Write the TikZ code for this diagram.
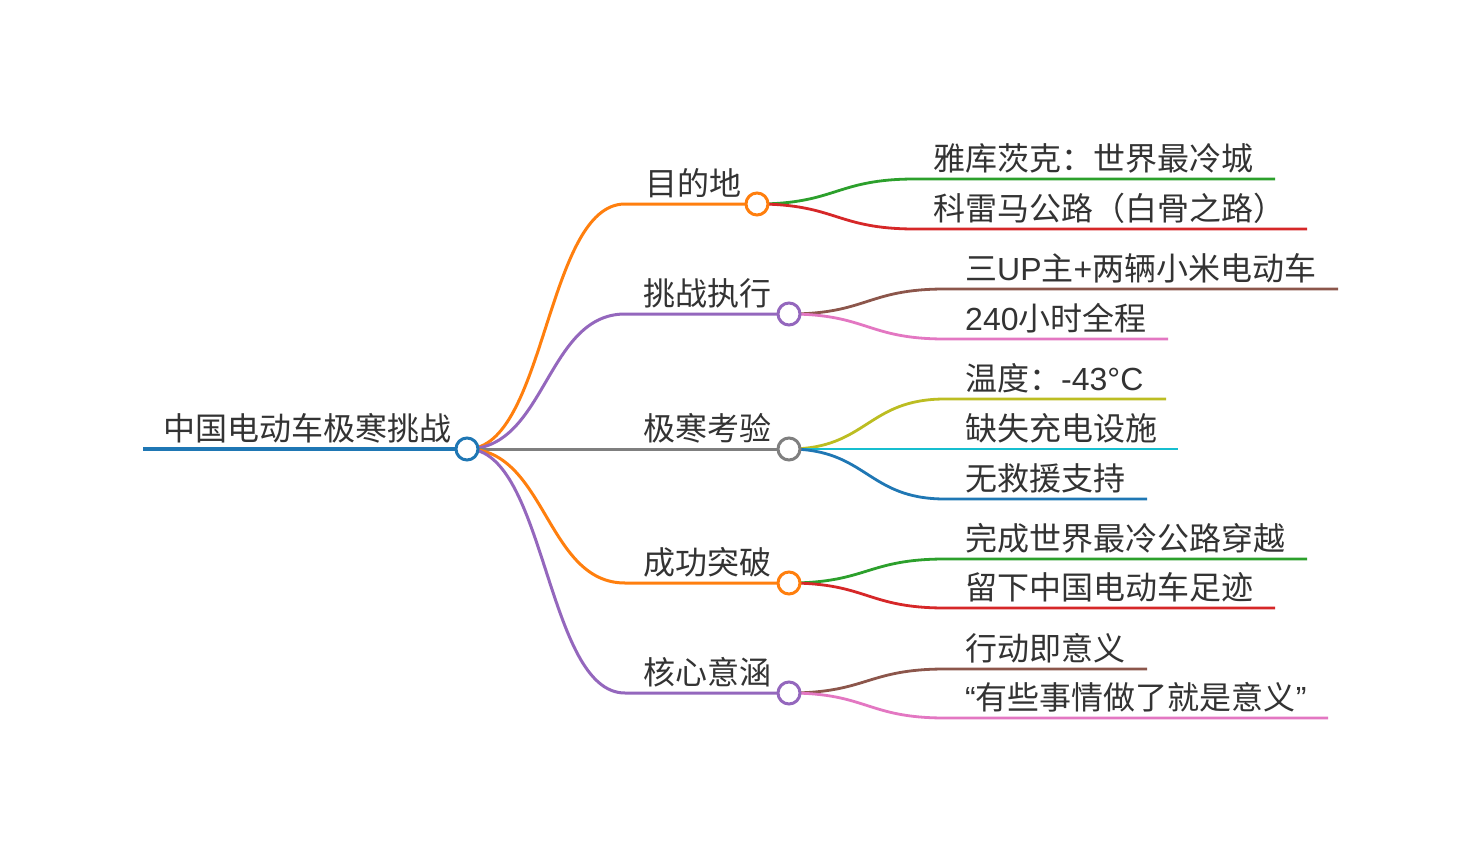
\documentclass[tikz,border=0pt]{standalone}
\usepackage{fontspec}
\setmainfont{Noto Sans CJK SC}
\newfontfamily\latfont{Liberation Sans}
\newcommand{\lat}[1]{{\latfont #1}}
\usetikzlibrary{backgrounds}
\definecolor{cblue}{HTML}{1F77B4}
\definecolor{corange}{HTML}{FF7F0E}
\definecolor{cgreen}{HTML}{2CA02C}
\definecolor{cred}{HTML}{D62728}
\definecolor{cpurple}{HTML}{9467BD}
\definecolor{cbrown}{HTML}{8C564B}
\definecolor{cpink}{HTML}{E377C2}
\definecolor{cgray}{HTML}{7F7F7F}
\definecolor{colive}{HTML}{BCBD22}
\definecolor{ccyan}{HTML}{17BECF}
\definecolor{txt}{HTML}{333333}
\begin{document}
\begin{tikzpicture}[x=1pt,y=-1pt,
  lbl/.style={anchor=base west, inner sep=0, text=txt, font=\fontsize{32}{36}\selectfont},
  knob/.style={circle, draw=#1, fill=white, line width=3pt, minimum size=22pt, inner sep=0},
  rootline/.style={draw=#1, line width=4pt},
  l1line/.style={draw=#1, line width=3pt},
  l2line/.style={draw=#1, line width=2.8pt}]
\useasboundingbox (0,0) rectangle (1482,864);

% ---------- root ----------
\coordinate (r-s) at (143,449);
\node[knob=cblue] (r-c) at (467,449) {};
\node[lbl] (r-t) at (163,440) {中国电动车极寒挑战};

% ---------- level 1 ----------
\coordinate (a-s) at (625,204);
\node[knob=corange] (a-c) at (757,204) {};
\node[lbl] (a-t) at (645,195) {目的地};

\coordinate (b-s) at (625,314);
\node[knob=cpurple] (b-c) at (789,314) {};
\node[lbl] (b-t) at (643,305) {挑战执行};

\coordinate (c-s) at (625,449);
\node[knob=cgray] (c-c) at (789,449) {};
\node[lbl] (c-t) at (643,440) {极寒考验};

\coordinate (d-s) at (625,583);
\node[knob=corange] (d-c) at (789,583) {};
\node[lbl] (d-t) at (643,574) {成功突破};

\coordinate (e-s) at (625,693);
\node[knob=cpurple] (e-c) at (789,693) {};
\node[lbl] (e-t) at (643,684) {核心意涵};

% ---------- level 2 ----------
\coordinate (a1-s) at (915,179); \coordinate (a1-e) at (1275,179);
\node[lbl] (a1-t) at (933,170) {雅库茨克：世界最冷城};
\coordinate (a2-s) at (915,229); \coordinate (a2-e) at (1307,229);
\node[lbl] (a2-t) at (933,220) {科雷马公路（白骨之路）};

\coordinate (b1-s) at (945,289); \coordinate (b1-e) at (1338,289);
\node[lbl] (b1-t) at (965,280) {三\lat{UP}主\lat{+}两辆小米电动车};
\coordinate (b2-s) at (945,339); \coordinate (b2-e) at (1168,339);
\node[lbl] (b2-t) at (965,330) {\lat{240}小时全程};

\coordinate (c1-s) at (945,399); \coordinate (c1-e) at (1166,399);
\node[lbl] (c1-t) at (965,390) {温度：\lat{-43°C}};
\coordinate (c2-s) at (945,449); \coordinate (c2-e) at (1178,449);
\node[lbl] (c2-t) at (965,440) {缺失充电设施};
\coordinate (c3-s) at (945,499); \coordinate (c3-e) at (1147,499);
\node[lbl] (c3-t) at (965,490) {无救援支持};

\coordinate (d1-s) at (945,559); \coordinate (d1-e) at (1307,559);
\node[lbl] (d1-t) at (965,550) {完成世界最冷公路穿越};
\coordinate (d2-s) at (945,608); \coordinate (d2-e) at (1275,608);
\node[lbl] (d2-t) at (965,599) {留下中国电动车足迹};

\coordinate (e1-s) at (945,669); \coordinate (e1-e) at (1147,669);
\node[lbl] (e1-t) at (965,660) {行动即意义};
\coordinate (e2-s) at (945,718); \coordinate (e2-e) at (1328,718);
\node[lbl] (e2-t) at (965,709) {\lat{“}有些事情做了就是意义\lat{”}};

% ---------- connectors (behind circles) ----------
\begin{pgfonlayer}{background}
\fill[white] (0,0) rectangle (1482,864);
\draw[rootline=cblue] (r-s) -- (r-c.center);
% root to level 1
\draw[l1line=corange] (r-c.center) .. controls (546,449) and (546,204) .. (a-s) -- (a-c.center);
\draw[l1line=cpurple] (r-c.center) .. controls (546,449) and (546,314) .. (b-s) -- (b-c.center);
\draw[l1line=cgray]   (r-c.center) .. controls (546,449) and (546,449) .. (c-s) -- (c-c.center);
\draw[l1line=corange] (r-c.center) .. controls (546,449) and (546,583) .. (d-s) -- (d-c.center);
\draw[l1line=cpurple] (r-c.center) .. controls (546,449) and (546,693) .. (e-s) -- (e-c.center);
% level 1 to level 2
\draw[l2line=cgreen]  (a-c.center) .. controls (836,204) and (836,179) .. (a1-s) -- (a1-e);
\draw[l2line=cred]    (a-c.center) .. controls (836,204) and (836,229) .. (a2-s) -- (a2-e);
\draw[l2line=cbrown]  (b-c.center) .. controls (867,314) and (867,289) .. (b1-s) -- (b1-e);
\draw[l2line=cpink]   (b-c.center) .. controls (867,314) and (867,339) .. (b2-s) -- (b2-e);
\draw[l2line=colive]  (c-c.center) .. controls (867,449) and (867,399) .. (c1-s) -- (c1-e);
\draw[l2line=ccyan]   (c-c.center) -- (c2-s) -- (c2-e);
\draw[l2line=cblue]   (c-c.center) .. controls (867,449) and (867,499) .. (c3-s) -- (c3-e);
\draw[l2line=cgreen]  (d-c.center) .. controls (867,583) and (867,559) .. (d1-s) -- (d1-e);
\draw[l2line=cred]    (d-c.center) .. controls (867,583) and (867,608) .. (d2-s) -- (d2-e);
\draw[l2line=cbrown]  (e-c.center) .. controls (867,693) and (867,669) .. (e1-s) -- (e1-e);
\draw[l2line=cpink]   (e-c.center) .. controls (867,693) and (867,718) .. (e2-s) -- (e2-e);
\end{pgfonlayer}
\end{tikzpicture}
\end{document}
